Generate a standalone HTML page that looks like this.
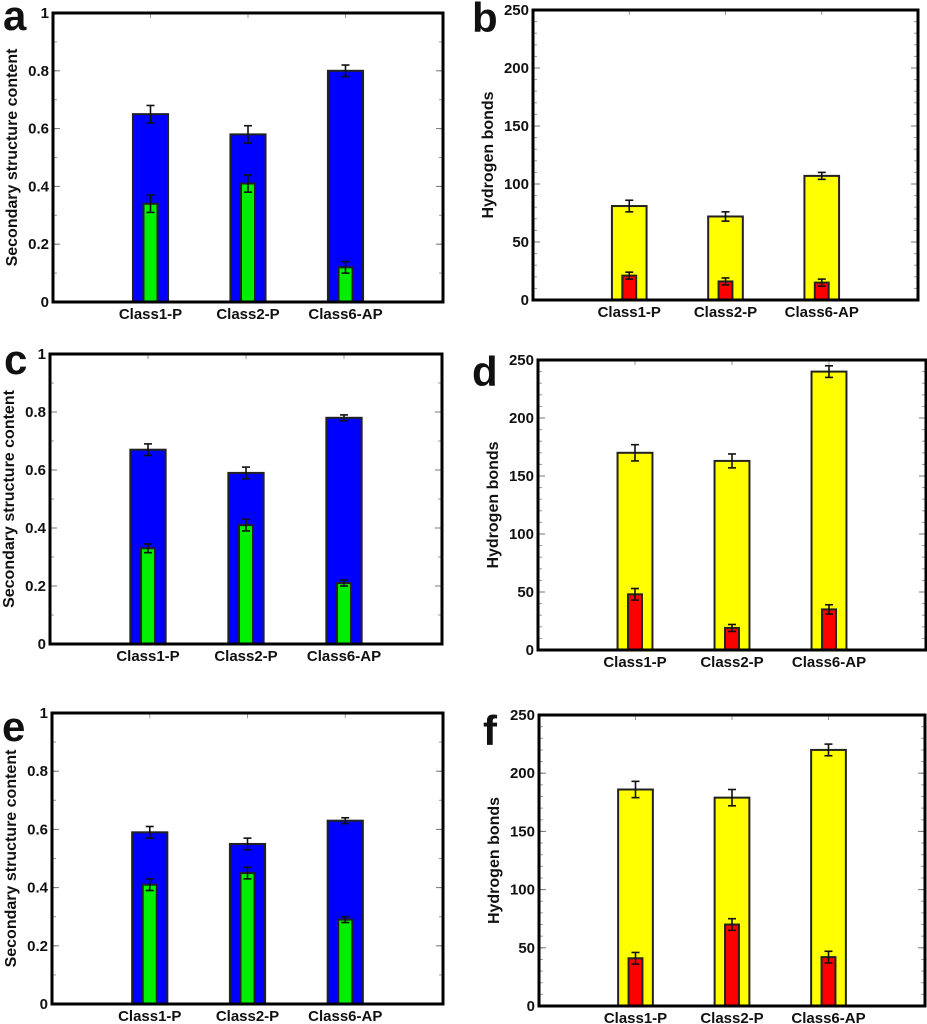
<!DOCTYPE html>
<html><head><meta charset="utf-8">
<style>
html,body{margin:0;padding:0;background:#fff;}
svg{display:block;}
text{font-family:"Liberation Sans","DejaVu Sans",sans-serif;font-weight:bold;fill:#111;}
</style></head>
<body>
<svg id="fig" width="927" height="1024" viewBox="0 0 927 1024"></svg>
<script>
// ---- data ----
const categories = ["Class1-P","Class2-P","Class6-AP"];
const aOuter = [0.65,0.58,0.80], aOuterErr = [0.03,0.03,0.02];
const aInner = [0.34,0.41,0.12], aInnerErr = [0.03,0.03,0.02];
const bOuter = [81,72,107], bOuterErr = [5,4,3];
const bInner = [21,16,15], bInnerErr = [3,3,3];
const cOuter = [0.67,0.59,0.78], cOuterErr = [0.02,0.02,0.01];
const cInner = [0.33,0.41,0.21], cInnerErr = [0.015,0.02,0.01];
const dOuter = [170,163,240], dOuterErr = [7,6,5];
const dInner = [48,19,35], dInnerErr = [5,3,4];
const eOuter = [0.59,0.55,0.63], eOuterErr = [0.02,0.02,0.01];
const eInner = [0.41,0.45,0.29], eInnerErr = [0.02,0.02,0.01];
const fOuter = [186,179,220], fOuterErr = [7,7,5];
const fInner = [41,70,42], fInnerErr = [5,5,5];
const ssTicks = ["0","0.2","0.4","0.6","0.8","1"];
const hbTicks = ["0","50","100","150","200","250"];

const NS="http://www.w3.org/2000/svg";
const svg=document.getElementById('fig');
function mk(tag,attrs,parent){const e=document.createElementNS(NS,tag);for(const k in attrs)e.setAttribute(k,attrs[k]);(parent||svg).appendChild(e);return e;}

function panel(letter,L,T,R,B,ymax,tickLabels,minorStep,outer,outerErr,inner,innerErr,cOut,cIn,ylabel,letterX,letterY){
  const g=mk('g',{});
  
  
  const W=R-L,H=B-T;
  const xs=i=>L+W*(i+1)/4;
  const ys=v=>B-H*v/ymax;
  for(let v=minorStep;v<ymax-1e-9;v+=minorStep){
    const y=ys(v);
    mk('line',{x1:L,x2:L+4,y1:y,y2:y,stroke:'#999','stroke-width':1},g);
    mk('line',{x1:R-4,x2:R,y1:y,y2:y,stroke:'#999','stroke-width':1},g);
  }
  for(let i=0;i<3;i++){
    const x=xs(i);
    mk('line',{x1:x,x2:x,y1:T,y2:T+5,stroke:'#999','stroke-width':1},g);
  }
  const ow=W*0.09, iw=W*0.036;
  for(let i=0;i<3;i++){
    const x=xs(i);
    const ob=mk('rect',{x:x-ow/2,y:ys(outer[i]),width:ow,height:B-ys(outer[i]),fill:cOut,stroke:'#222','stroke-width':2},g);
    
    
    const ib=mk('rect',{x:x-iw/2,y:ys(inner[i]),width:iw,height:B-ys(inner[i]),fill:cIn,stroke:'#222','stroke-width':2},g);
    
    
    [[outer[i],outerErr[i]],[inner[i],innerErr[i]]].forEach(([v,e])=>{
      const y1=ys(v+e),y2=ys(v-e);
      mk('line',{x1:x,x2:x,y1:y1,y2:y2,stroke:'#111','stroke-width':1.6},g);
      mk('line',{x1:x-4,x2:x+4,y1:y1,y2:y1,stroke:'#111','stroke-width':1.6},g);
      mk('line',{x1:x-4,x2:x+4,y1:y2,y2:y2,stroke:'#111','stroke-width':1.6},g);
    });
    const tl=mk('text',{x:x,y:B+17,'text-anchor':'middle','font-size':15},g);
    tl.textContent=categories[i];
    
    
  }
  for(let k=0;k<tickLabels.length;k++){
    const v=ymax*k/(tickLabels.length-1), y=ys(v);
    if(k>0&&k<tickLabels.length-1){
      mk('line',{x1:L,x2:L+7,y1:y,y2:y,stroke:'#777','stroke-width':1},g);
      mk('line',{x1:R-7,x2:R,y1:y,y2:y,stroke:'#777','stroke-width':1},g);
    }
    const t=mk('text',{x:L-4,y:y+5,'text-anchor':'end','font-size':15},g);
    t.textContent=tickLabels[k];
    
    
  }
  mk('rect',{x:L,y:T,width:W,height:H,fill:'none',stroke:'#000','stroke-width':3},g);
  const yl=mk('text',{x:0,y:0,'text-anchor':'middle','font-size':16,transform:`translate(${L-(ymax>2?40:36)},${(T+B)/2}) rotate(-90)`},g);
  yl.textContent=ylabel;
  
  
  const lt=mk('text',{x:letterX,y:letterY,'font-size':42},g);
  lt.textContent=letter;
  
  
}
const SS="Secondary structure content", HB="Hydrogen bonds";
panel('a',53,13,443,302,1,ssTicks,0.1,aOuter,aOuterErr,aInner,aInnerErr,'#0000ff','#00ee00',SS,3,30);
panel('b',533,10,918,300,250,hbTicks,10,bOuter,bOuterErr,bInner,bInnerErr,'#ffff00','#ff0000',HB,472,32);
panel('c',50,354,442,644,1,ssTicks,0.1,cOuter,cOuterErr,cInner,cInnerErr,'#0000ff','#00ee00',SS,4,374);
panel('d',538,360,926,650,250,hbTicks,10,dOuter,dOuterErr,dInner,dInnerErr,'#ffff00','#ff0000',HB,472,386);
panel('e',52,713,443,1004,1,ssTicks,0.1,eOuter,eOuterErr,eInner,eInnerErr,'#0000ff','#00ee00',SS,2,741);
panel('f',539,715,925,1006,250,hbTicks,10,fOuter,fOuterErr,fInner,fInnerErr,'#ffff00','#ff0000',HB,483,745);
</script>
</body></html>
